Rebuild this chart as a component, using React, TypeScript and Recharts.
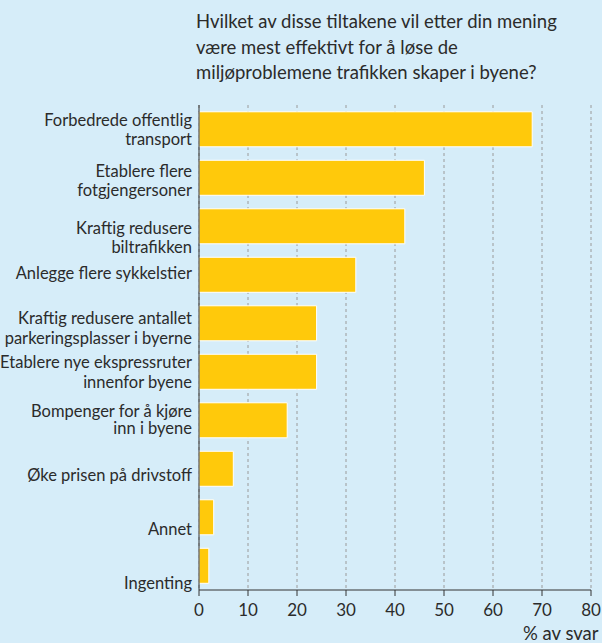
import { BarChart, Bar, XAxis, YAxis, CartesianGrid } from "recharts";

const titleLines = [
  "Hvilket av disse tiltakene vil etter din mening",
  "være mest effektivt for å løse de",
  "miljøproblemene trafikken skaper i byene?",
];

const categories = [
  "Forbedrede offentlig\ntransport",
  "Etablere flere\nfotgjengersoner",
  "Kraftig redusere\nbiltrafikken",
  "Anlegge flere sykkelstier",
  "Kraftig redusere antallet\nparkeringsplasser i byerne",
  "Etablere nye ekspressruter\ninnenfor byene",
  "Bompenger for å kjøre\ninn i byene",
  "Øke prisen på drivstoff",
  "Annet",
  "Ingenting",
];

const shares = [68, 46, 42, 32, 24, 24, 18, 7, 3, 2];

const xTicks = [0, 10, 20, 30, 40, 50, 60, 70, 80];
const xUnit = "% av svar";

const data = categories.map((name, i) => ({ name, value: shares[i] }));

const FONT = "Lato, 'Noto Sans', sans-serif";
const TEXT = "#2b2b2b";
const AXIS = "#333";

// the printed labels don't sit exactly on the bar centres
const labelShift = [0, 3, 11, -2, 5, 0, -1, 6, 12, 17];
const lineGap = [19, 19, 19, 19, 20, 20, 16.5, 19, 19, 19];

function CategoryTick(props: any) {
  const { x, y, payload, index } = props;
  const lines = String(payload.value).split("\n");
  const gap = lineGap[index] ?? 19;
  const mid = y + (labelShift[index] ?? 0);
  const first = mid - ((lines.length - 1) * gap) / 2;
  return (
    <text x={x} textAnchor="end" fill={TEXT} fontSize={16.5} fontFamily={FONT}>
      {lines.map((l, k) => (
        <tspan key={k} x={x} y={first + k * gap + 6}>
          {l}
        </tspan>
      ))}
    </text>
  );
}

export default function App() {
  return (
    <div
      style={{
        position: "absolute",
        left: 0,
        top: 0,
        width: 602,
        height: 643,
        background: "#d6edf9",
        fontFamily: FONT,
        color: TEXT,
        overflow: "hidden",
      }}
    >
      <div style={{ position: "absolute", left: 196, top: 9, fontSize: 18.5, lineHeight: "25.5px", whiteSpace: "nowrap" }}>
        {titleLines.map((t) => (
          <div key={t}>{t}</div>
        ))}
      </div>
      <BarChart
        width={602}
        height={643}
        data={data}
        layout="vertical"
        margin={{ top: 105, right: 11, bottom: 0, left: 0 }}
        barCategoryGap="14%"
      >
        <CartesianGrid horizontal={false} stroke="#9a9a9a" strokeDasharray="3 3" />
        <XAxis
          type="number"
          domain={[0, 80]}
          ticks={xTicks}
          interval={0}
          height={53}
          stroke={AXIS}
          tickSize={6}
          tickMargin={8}
          tick={{ fill: TEXT, fontSize: 17, fontFamily: FONT }}
        />
        <XAxis
          xAxisId="top"
          orientation="top"
          type="number"
          domain={[0, 80]}
          height={0}
          tick={false}
          tickLine={false}
          stroke={AXIS}
        />
        <YAxis
          type="category"
          dataKey="name"
          width={199}
          stroke={AXIS}
          tickLine={false}
          tickSize={0}
          tickMargin={7}
          interval={0}
          tick={<CategoryTick />}
        />
        <YAxis
          yAxisId="right"
          orientation="right"
          type="category"
          dataKey="name"
          width={0}
          tick={false}
          tickLine={false}
          stroke={AXIS}
        />
        <Bar dataKey="value" fill="#ffc90b" stroke="#ffffff" strokeWidth={1} isAnimationActive={false} />
      </BarChart>
      <div style={{ position: "absolute", left: 523, top: 622, fontSize: 18.5, whiteSpace: "nowrap" }}>{xUnit}</div>
    </div>
  );
}
